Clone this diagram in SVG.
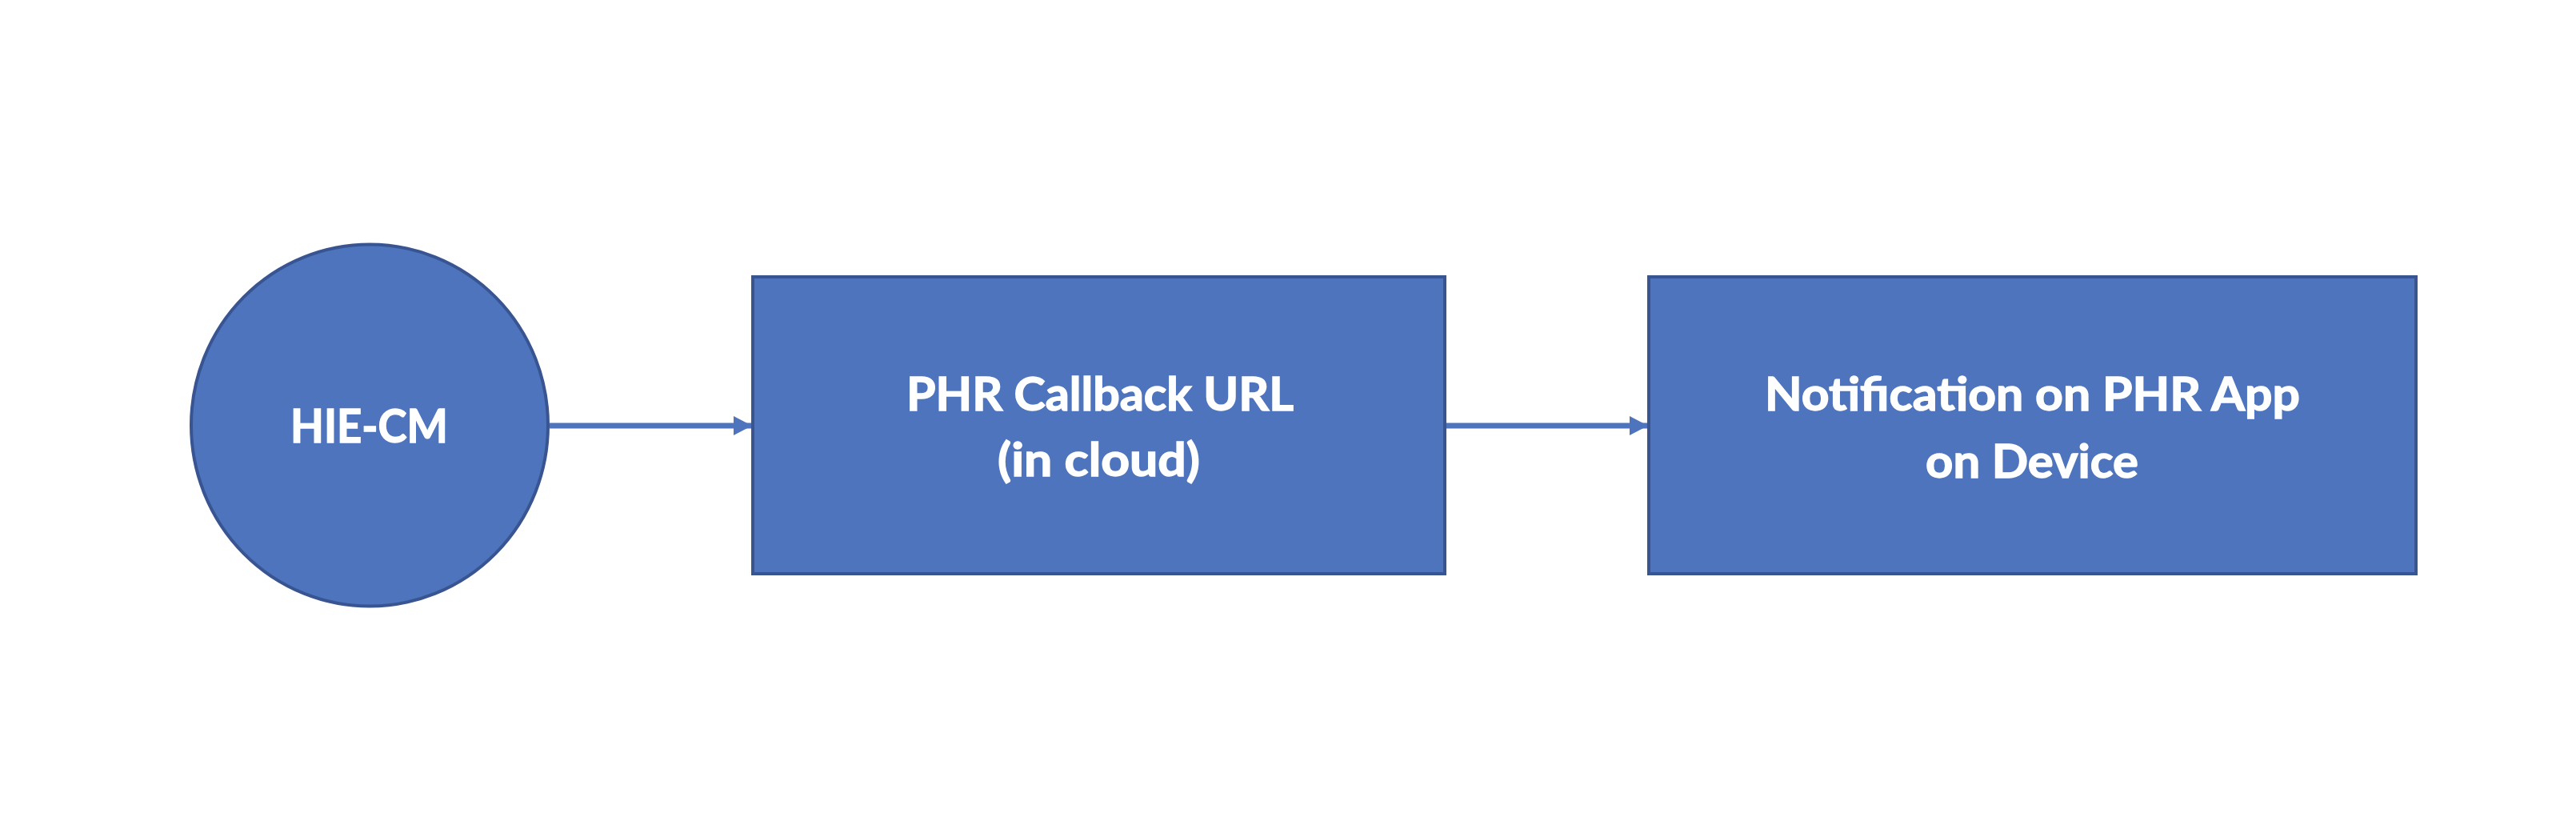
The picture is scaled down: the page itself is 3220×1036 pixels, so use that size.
<svg xmlns="http://www.w3.org/2000/svg" width="3220" height="1036" viewBox="0 0 3220 1036">
<style>
.node{fill:#4E74BD;stroke:#385592;stroke-width:4}
.lbl{font-family:Lato,"Open Sans","Liberation Sans",sans-serif;font-weight:bold;font-size:58px;fill:#FFFFFF;stroke:#FFFFFF;stroke-width:1.4;text-anchor:middle}
.conn{stroke:#4E74BD;stroke-width:7;fill:none}
</style>
<defs>
<marker id="ah" markerUnits="userSpaceOnUse" markerWidth="24" markerHeight="24" refX="23" refY="12" orient="auto">
<path d="M0,0 L23,12 L0,24 Z" fill="#4E74BD"/>
</marker>
</defs>
<rect width="3220" height="1036" fill="#FFFFFF"/>
<g id="connectors">
<line class="conn" x1="687" y1="532" x2="940" y2="532" marker-end="url(#ah)"/>
<line class="conn" x1="1808" y1="532" x2="2060" y2="532" marker-end="url(#ah)"/>
</g>
<g id="node-hie-cm">
<ellipse class="node" cx="462" cy="531.5" rx="223" ry="226"/>
<text class="lbl" x="461.5" y="553" textLength="197" lengthAdjust="spacingAndGlyphs">HIE-CM</text>
</g>
<g id="node-phr-callback">
<rect class="node" x="941" y="346" width="865" height="371"/>
<text class="lbl" x="1375" y="513" textLength="484" lengthAdjust="spacingAndGlyphs">PHR Callback URL</text>
<text class="lbl" x="1373.5" y="595" textLength="253" lengthAdjust="spacingAndGlyphs">(in cloud)</text>
</g>
<g id="node-notification">
<rect class="node" x="2061" y="346" width="959" height="371"/>
<text class="lbl" x="2540.5" y="513" textLength="669" lengthAdjust="spacingAndGlyphs">Notification on PHR App</text>
<text class="lbl" x="2540" y="597" textLength="266" lengthAdjust="spacingAndGlyphs">on Device</text>
</g>
</svg>
